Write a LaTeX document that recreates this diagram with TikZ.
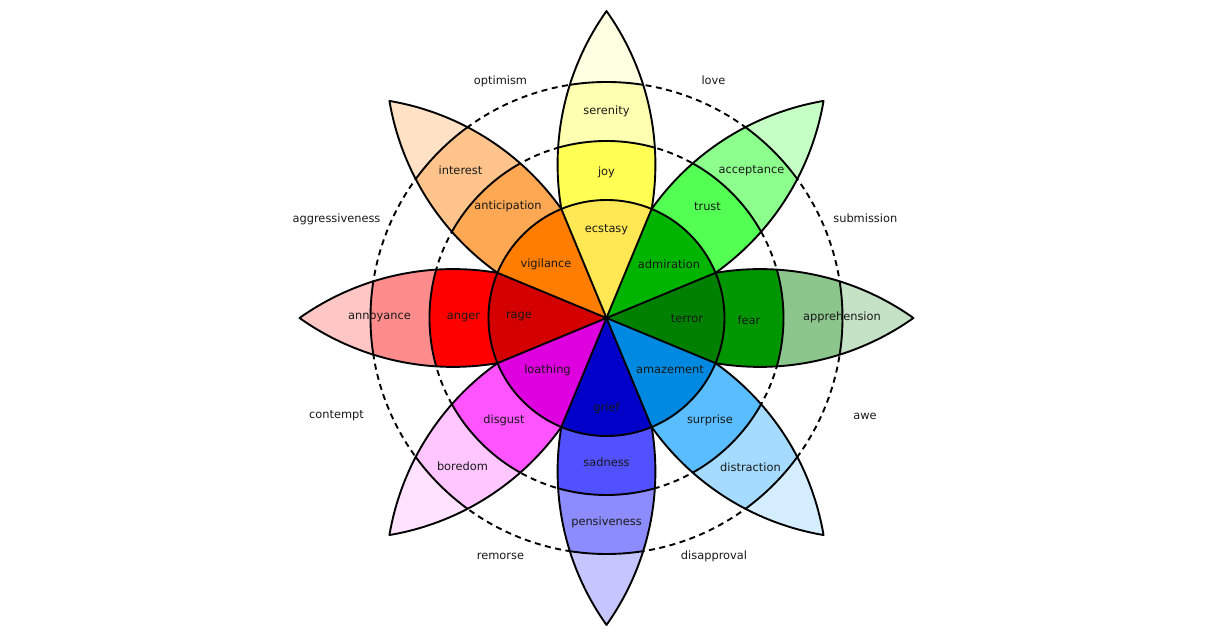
\documentclass[tikz,border=0pt]{standalone}
\usepackage{fontspec}
\setmainfont{DejaVu Sans}
% petal colours: tip, outer band, middle band, inner sector
\definecolor{serT}{HTML}{FFFFE2}\definecolor{serC}{HTML}{FFFFB1}\definecolor{joyC}{HTML}{FFFF54}\definecolor{ecsC}{HTML}{FFE854}
\definecolor{accT}{HTML}{C6FFC6}\definecolor{accC}{HTML}{8CFF8C}\definecolor{truC}{HTML}{54FF54}\definecolor{admC}{HTML}{00B400}
\definecolor{appT}{HTML}{C6E2C6}\definecolor{appC}{HTML}{8CC68C}\definecolor{feaC}{HTML}{009600}\definecolor{terC}{HTML}{008000}
\definecolor{disT}{HTML}{D5EEFF}\definecolor{disC}{HTML}{A5DBFF}\definecolor{surC}{HTML}{59BDFF}\definecolor{amaC}{HTML}{0089E0}
\definecolor{penT}{HTML}{C6C6FF}\definecolor{penC}{HTML}{8C8CFF}\definecolor{sadC}{HTML}{5151FF}\definecolor{griC}{HTML}{0000C8}
\definecolor{borT}{HTML}{FFE2FF}\definecolor{borC}{HTML}{FFC6FF}\definecolor{dgsC}{HTML}{FF54FF}\definecolor{loaC}{HTML}{DE00DE}
\definecolor{annT}{HTML}{FFC6C6}\definecolor{annC}{HTML}{FF8C8C}\definecolor{angC}{HTML}{FF0000}\definecolor{ragC}{HTML}{D40000}
\definecolor{intT}{HTML}{FFE2C6}\definecolor{intC}{HTML}{FFC48C}\definecolor{antC}{HTML}{FFA854}\definecolor{vigC}{HTML}{FF7D00}
\begin{document}
\begin{tikzpicture}
      [x=1pt,y=1pt
      ,font=\fontsize{11.4}{13}\selectfont
      ,ring/.style={line width=1.9pt,dash pattern=on 6pt off 4.5pt}
      ,edge/.style={line width=1.9pt,line join=round}
      ,lens/.style={insert path={arc[start angle=125.35,end angle=54.65,radius=265.3pt]
                                 arc[start angle=-54.65,end angle=-125.35,radius=265.3pt] -- cycle}}
      ,emo/.style={inner sep=0pt,text=black!90}
      ]
        \useasboundingbox (-606.5,-318) rectangle (604.5,318);
        \coordinate (c) at (0,0);
        \draw[ring] (c) circle[radius=177pt];
        \draw[ring] (c) circle[radius=236pt];
        \foreach \a/\ct/\co/\cm in {90/serT/serC/joyC,45/accT/accC/truC,0/appT/appC/feaC,-45/disT/disC/surC,
                                    -90/penT/penC/sadC,-135/borT/borC/dgsC,180/annT/annC/angC,135/intT/intC/antC}{
          \begin{scope}[rotate=\a]
            \fill[\ct] (c) [lens];
            \begin{scope}
              \clip (c) circle[radius=236pt];
              \fill[\co] (c) [lens];
            \end{scope}
            \begin{scope}
              \clip (c) circle[radius=177pt];
              \fill[\cm] (c) [lens];
            \end{scope}
            \begin{scope}
              \clip (c) [lens];
              \draw[edge] (c) circle[radius=236pt] (c) circle[radius=177pt];
            \end{scope}
            \draw[edge] (c) [lens];
          \end{scope}
        }
        \foreach \a/\ci in {90/ecsC,45/admC,0/terC,-45/amaC,-90/griC,-135/loaC,180/ragC,135/vigC}{
          \fill[\ci] (c) -- (\a-22.5:118pt) arc[start angle=\a-22.5,end angle=\a+22.5,radius=118pt] -- cycle;
        }
        \foreach \a in {22.5,67.5,...,337.5}{
          \draw[edge] (c) -- (\a:118pt);
        }
        \draw[edge] (c) circle[radius=118pt];
        % primary emotions
        \node[emo] (serenity) at (0,206.3) {serenity};
        \node[emo] (joy) at (0,146) {joy};
        \node[emo] (ecstasy) at (0,88) {ecstasy};
        \node[emo] (acceptance) at (145,147.3) {acceptance};
        \node[emo] (trust) at (101,111.3) {trust};
        \node[emo] (admiration) at (62.5,54) {admiration};
        \node[emo] (apprehension) at (235.5,0.3) {apprehension};
        \node[emo] (fear) at (142.5,-2) {fear};
        \node[emo] (terror) at (80.5,-1) {terror};
        \node[emo] (distraction) at (144,-149) {distraction};
        \node[emo] (surprise) at (103.5,-102) {surprise};
        \node[emo] (amazement) at (63.5,-52) {amazement};
        \node[emo] (pensiveness) at (0,-204) {pensiveness};
        \node[emo] (sadness) at (0,-144) {sadness};
        \node[emo] (grief) at (0,-90) {grief};
        \node[emo] (boredom) at (-144,-148.7) {boredom};
        \node[emo] (disgust) at (-102.5,-102) {disgust};
        \node[emo] (loathing) at (-59,-52.7) {loathing};
        \node[emo] (annoyance) at (-227,1) {annoyance};
        \node[emo] (anger) at (-143,1) {anger};
        \node[emo] (rage) at (-87.5,1.3) {rage};
        \node[emo] (interest) at (-146,147.3) {interest};
        \node[emo] (anticipation) at (-98.5,111.3) {anticipation};
        \node[emo] (vigilance) at (-60.5,54) {vigilance};
        % dyads
        \node[emo] (love) at (107,237.3) {love};
        \node[emo] (submission) at (258.8,99.7) {submission};
        \node[emo] (awe) at (258.5,-98) {awe};
        \node[emo] (disapproval) at (107.5,-238.7) {disapproval};
        \node[emo] (remorse) at (-106,-238) {remorse};
        \node[emo] (contempt) at (-270,-98) {contempt};
        \node[emo] (aggressiveness) at (-270,99) {aggressiveness};
        \node[emo] (optimism) at (-106,236.3) {optimism};
      \end{tikzpicture}
\end{document}
